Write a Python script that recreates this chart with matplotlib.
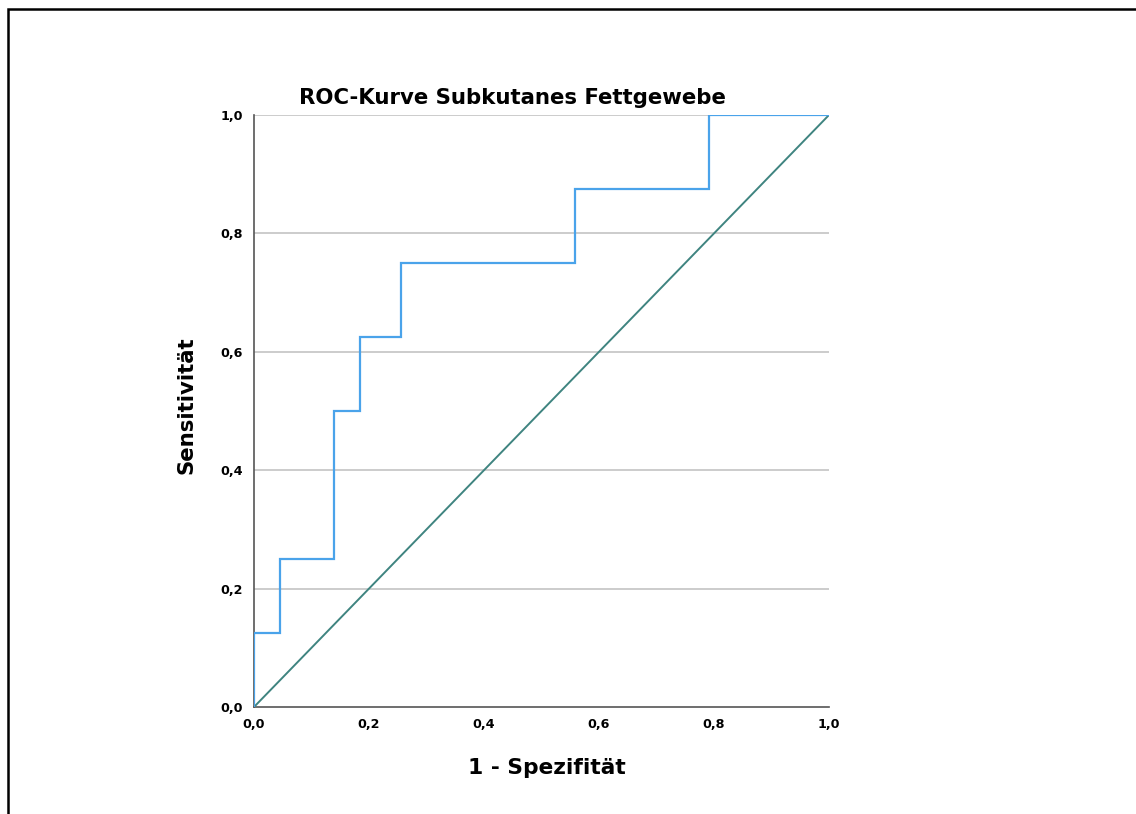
import matplotlib
matplotlib.use("Agg")
import matplotlib.pyplot as plt
from matplotlib.patches import Rectangle

# Data
fpr = [0.0, 0.0, 0.045, 0.045, 0.139, 0.139, 0.184, 0.184, 0.255, 0.255, 0.558, 0.558, 0.792, 0.792, 1.0]
tpr = [0.0, 0.125, 0.125, 0.25, 0.25, 0.5, 0.5, 0.625, 0.625, 0.75, 0.75, 0.875, 0.875, 1.0, 1.0]
diag = [0.0, 1.0]
ticks = [0.0, 0.2, 0.4, 0.6, 0.8, 1.0]
tick_labels = ["0,0", "0,2", "0,4", "0,6", "0,8", "1,0"]

plt.rcParams['font.family'] = ['DejaVu Sans']

W, H = 1136, 814
fig = plt.figure(figsize=(W / 100, H / 100), dpi=100)
fig.patch.set_facecolor("white")

# outer frame
fig.add_artist(Rectangle((7.5 / W, -0.1), 1.2, 1.1 - 9.5 / H, transform=fig.transFigure,
                         fill=False, edgecolor="black", linewidth=1.8))

x0, x1 = 254, 829
y0, y1 = 707, 115
ax = fig.add_axes([x0 / W, 1 - y0 / H, (x1 - x0) / W, (y0 - y1) / H])
ax.set_xlim(0, 1)
ax.set_ylim(0, 1)

for t in ticks[1:]:
    ax.axhline(t, color="#c4c4c4", linewidth=1.2, zorder=1)

ax.plot(diag, diag, color="#3f8480", linewidth=1.4, zorder=3)
ax.plot(fpr, tpr, color="#4aa3ea", linewidth=1.6, zorder=4, solid_joinstyle="miter")

for s in ["top", "right"]:
    ax.spines[s].set_visible(False)
for s in ["left", "bottom"]:
    ax.spines[s].set_color("#555555")
    ax.spines[s].set_linewidth(1.2)

ax.set_xticks(ticks)
ax.set_xticklabels(tick_labels)
ax.set_yticks(ticks)
ax.set_yticklabels(tick_labels)
ax.tick_params(length=0, labelsize=9.2, pad=8)
for lab in ax.get_xticklabels() + ax.get_yticklabels():
    lab.set_fontweight("bold")

fig.text(512 / W, 1 - 98 / H, "ROC-Kurve Subkutanes Fettgewebe", ha="center", va="center",
         fontsize=15.3, fontweight="bold")
fig.text(547 / W, 1 - 768 / H, "1 - Spezifität", ha="center", va="center",
         fontsize=15.7, fontweight="bold")
fig.text(187 / W, 1 - 405 / H, "Sensitivität", ha="center", va="center",
         fontsize=15.3, fontweight="bold", rotation=90)

fig.savefig("out.png", dpi=100)
